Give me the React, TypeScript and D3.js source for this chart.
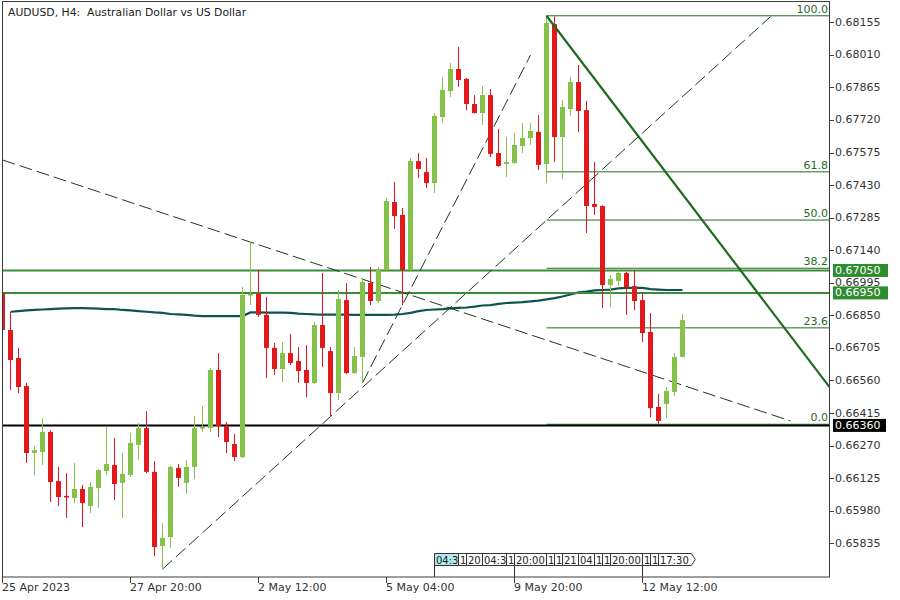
import React from 'react';
import * as d3 from 'd3';

// ---- Data (AUDUSD H4) ----
const opens = [0.66950,0.66785,0.66660,0.66535,0.66237,0.66242,0.66331,0.66112,0.66046,0.66037,0.66077,0.66001,0.66081,0.66157,0.66184,0.66104,0.66139,0.66273,0.66348,0.66153,0.65823,0.65863,0.66170,0.66104,0.66175,0.66346,0.66348,0.66607,0.66357,0.66277,0.66219,0.66938,0.66945,0.66852,0.66705,0.66611,0.66682,0.66647,0.66607,0.66549,0.66807,0.66691,0.66504,0.66918,0.66593,0.66665,0.66994,0.66914,0.67052,0.67355,0.67297,0.67052,0.67537,0.67488,0.67439,0.67733,0.67849,0.67947,0.67903,0.67791,0.67751,0.67831,0.67573,0.67524,0.67528,0.67604,0.67640,0.67667,0.67524,0.68147,0.67644,0.67769,0.67889,0.67764,0.67346,0.67337,0.66985,0.67003,0.67039,0.66981,0.66918,0.66776,0.66442,0.66455,0.66509,0.66665];
const highs = [0.66958,0.66865,0.66705,0.66549,0.66268,0.66393,0.66339,0.66175,0.66148,0.66193,0.66095,0.66108,0.66165,0.66353,0.66304,0.66237,0.66326,0.66371,0.66424,0.66201,0.65925,0.66179,0.66188,0.66206,0.66402,0.66446,0.66616,0.66682,0.66375,0.66322,0.66976,0.67177,0.67052,0.66932,0.66727,0.66731,0.66767,0.66709,0.66718,0.66820,0.67039,0.66709,0.66963,0.66994,0.66709,0.67016,0.67065,0.67065,0.67373,0.67444,0.67328,0.67551,0.67573,0.67551,0.67751,0.67911,0.67974,0.68045,0.67907,0.67831,0.67871,0.67858,0.67680,0.67644,0.67662,0.67707,0.67707,0.67742,0.68184,0.68181,0.67809,0.67911,0.67965,0.67805,0.67533,0.67340,0.67030,0.67065,0.67044,0.67052,0.66950,0.66861,0.66500,0.66531,0.66682,0.66856];
const lows = [0.66771,0.66518,0.66504,0.66193,0.66139,0.66184,0.66019,0.66001,0.65948,0.66014,0.65907,0.65970,0.65992,0.66139,0.66028,0.65948,0.66130,0.66206,0.66148,0.65778,0.65720,0.65814,0.66086,0.66055,0.66121,0.66331,0.66331,0.66308,0.66237,0.66201,0.66215,0.66896,0.66843,0.66571,0.66584,0.66553,0.66629,0.66549,0.66486,0.66545,0.66620,0.66397,0.66473,0.66589,0.66590,0.66549,0.66896,0.66905,0.67043,0.67235,0.66896,0.67048,0.67462,0.67417,0.67395,0.67707,0.67822,0.67867,0.67764,0.67749,0.67698,0.67555,0.67511,0.67466,0.67526,0.67573,0.67609,0.67497,0.67439,0.67533,0.67457,0.67738,0.67667,0.67217,0.67297,0.66883,0.66887,0.66981,0.66852,0.66874,0.66731,0.66397,0.66365,0.66393,0.66491,0.66663];
const closes = [0.66785,0.66651,0.66531,0.66237,0.66250,0.66331,0.66108,0.66041,0.66039,0.66077,0.66014,0.66086,0.66161,0.66188,0.66099,0.66144,0.66282,0.66348,0.66153,0.65818,0.65859,0.66175,0.66126,0.66175,0.66348,0.66353,0.66607,0.66357,0.66286,0.66219,0.66941,0.66945,0.66852,0.66705,0.66611,0.66682,0.66638,0.66602,0.66549,0.66807,0.66705,0.66504,0.66923,0.66593,0.66669,0.66999,0.66914,0.67056,0.67359,0.67292,0.67052,0.67537,0.67502,0.67439,0.67738,0.67854,0.67947,0.67898,0.67791,0.67751,0.67831,0.67569,0.67515,0.67533,0.67609,0.67640,0.67671,0.67520,0.68152,0.67644,0.67778,0.67889,0.67760,0.67337,0.67333,0.66985,0.67012,0.67039,0.66976,0.66914,0.66771,0.66437,0.66380,0.66513,0.66665,0.66829];
const maValues = [NaN,0.66866,0.66869,0.66872,0.66874,0.66876,0.66878,0.66880,0.66881,0.66882,0.66882,0.66881,0.66880,0.66878,0.66878,0.66874,0.66872,0.66869,0.66866,0.66863,0.66861,0.66856,0.66854,0.66852,0.66849,0.66847,0.66847,0.66847,0.66847,0.66847,0.66847,0.66863,0.66863,0.66862,0.66862,0.66862,0.66861,0.66858,0.66856,0.66854,0.66853,0.66853,0.66853,0.66853,0.66852,0.66852,0.66852,0.66852,0.66852,0.66853,0.66856,0.66861,0.66869,0.66874,0.66876,0.66878,0.66881,0.66883,0.66885,0.66889,0.66894,0.66896,0.66901,0.66905,0.66907,0.66909,0.66912,0.66916,0.66921,0.66927,0.66934,0.66943,0.66952,0.66956,0.66961,0.66963,0.66965,0.66970,0.66972,0.66972,0.66972,0.66967,0.66965,0.66963,0.66963,0.66963];

const yTickLabels = ["0.68155","0.68010","0.67865","0.67720","0.67575","0.67430","0.67285","0.67140","0.66995","0.66850","0.66705","0.66560","0.66415","0.66270","0.66125","0.65980","0.65835"];
const xTickIndex = [0,16,32,48,64,80];
const xTickLabels = ["25 Apr 2023","27 Apr 20:00","2 May 12:00","5 May 04:00","9 May 20:00","12 May 12:00"];

const greenLevels = [0.67050,0.66950];
const greenLevelLabels = ["0.67050","0.66950"];
const blackLevel = 0.66360;
const blackLevelLabel = "0.66360";

const fibLevels = [100,61.8,50,38.2,23.6,0];
const fibLevelLabels = ["100.0","61.8","50.0","38.2","23.6","0.0"];
const fibHigh = 0.68184;
const fibLow = 0.66365;
const fibStartIndex = 68;

const dashStartIndex = [0,20,45];
const dashStartPrice = [0.67542,0.65720,0.66549];
const dashEndIndex = [98.5,96,66];
const dashEndPrice = [0.66380,0.68180,0.68009];

const solidStartIndex = 68;
const solidStartPrice = 0.68184;
const solidEndIndex = 103.5;
const solidEndPrice = 0.66525;

const objLabelIndex = [54,57,58,60,63,64,68,69,70,72,74,75,76,80,81,82];
const objLabelText = ["04:30","12:00","20:00","04:30","12:00","20:00","12:00","16:00","21:00","04:00","12:00","16:00","20:00","12:00","16:00","17:30"];
const objStemIndex = [54,64,80];

const titleText = "AUDUSD, H4:\u00a0 Australian Dollar vs US Dollar";

// ---- Layout ----
const W = 900, H = 600;
const left = 2, right = 830, top = 2, bottom = 577;
const FONT = "DejaVu Sans";
const BULL = "#86c14a";
const BEAR = "#e2191c";

export default function App() {
  const x = d3.scaleLinear().domain([0, 100]).range([2.5, 802.5]);
  const y = d3.scaleLinear().domain([0.65835, 0.68155]).range([543.3, 22.3]);
  const n = opens.length;
  const idx = d3.range(n);

  const maLine = d3.line<number>()
    .defined(i => !isNaN(maValues[i]))
    .x(i => x(i))
    .y(i => y(maValues[i]))
    .curve(d3.curveLinear);

  const yTickVals = yTickLabels.map(s => +s);
  const fibY = (lv: number) => y(fibLow + (lv / 100) * (fibHigh - fibLow));

  const charW = 6.36, colonW = 3.37;
  const cw = (c: string) => (c === ':' ? colonW : charW);
  const textWidth = (s: string) => s.split('').reduce((a, c) => a + cw(c), 0);
  const fitText = (s: string, avail: number) => {
    let out = '';
    let w = 0;
    for (const c of s) {
      if (w + cw(c) > avail + 1.5) break;
      out += c;
      w += cw(c);
    }
    return out;
  };

  const boxX = objLabelIndex.map(li => Math.round(x(li) - 0.5) + 0.5);

  return (
    <svg width={W} height={H} style={{ position: 'absolute', left: 0, top: 0, background: '#fff' }} fontFamily={FONT}>
      <defs>
        <clipPath id="plot">
          <rect x={left} y={top} width={right - left} height={bottom - top} />
        </clipPath>
      </defs>
      <rect x={0} y={0} width={W} height={H} fill="#fff" />

      <g clipPath="url(#plot)">
        {/* moving average */}
        <path d={maLine(idx) || ''} fill="none" stroke="#0f5350" strokeWidth={2.2} />

        {/* green horizontal levels */}
        {greenLevels.map((p, k) => (
          <line key={'g' + k} x1={left} x2={right} y1={y(p)} y2={y(p)} stroke="#3a8c3a" strokeWidth={2} />
        ))}

        {/* fib levels */}
        {fibLevels.map((lv, k) => (
          <g key={'f' + k}>
            <line x1={x(fibStartIndex)} x2={right} y1={fibY(lv)} y2={fibY(lv)} stroke="#1f6a1f" strokeWidth={1} />
            <text x={828} y={fibY(lv) - 3} textAnchor="end" fontSize={11} fill="#1f6a1f">{fibLevelLabels[k]}</text>
          </g>
        ))}

        {/* black level */}
        <line x1={left} x2={right} y1={y(blackLevel)} y2={y(blackLevel)} stroke="#000" strokeWidth={2} />

        {/* dashed trend lines */}
        {dashStartIndex.map((s, k) => (
          <line key={'d' + k} x1={x(s)} y1={y(dashStartPrice[k])} x2={x(dashEndIndex[k])} y2={y(dashEndPrice[k])}
            stroke="#1c3a1c" strokeWidth={1} strokeDasharray="13 5" />
        ))}

        {/* candles */}
        {idx.map(i => {
          const o = opens[i], c = closes[i];
          const up = c >= o;
          const col = up ? BULL : BEAR;
          const cx = x(i);
          const yt = y(Math.max(o, c)), yb = y(Math.min(o, c));
          return (
            <g key={'c' + i}>
              <rect x={cx - 0.5} y={y(highs[i])} width={1} height={Math.max(1, y(lows[i]) - y(highs[i]))} fill={col} />
              <rect x={cx - 2.5} y={yt} width={5} height={Math.max(1.5, yb - yt)} fill={col} />
            </g>
          );
        })}

        {/* solid green diagonal */}
        <line x1={x(solidStartIndex)} y1={y(solidStartPrice)} x2={x(solidEndIndex)} y2={y(solidEndPrice)}
          stroke="#1f6a1f" strokeWidth={2.2} />

        {/* object time labels */}
        {objStemIndex.map((si, k) => (
          <line key={'s' + k} x1={Math.round(x(si) - 0.5) + 0.5} x2={Math.round(x(si) - 0.5) + 0.5} y1={565} y2={bottom} stroke="#333" strokeWidth={1} />
        ))}
        {objLabelIndex.map((li, k) => {
          const bx = boxX[k];
          const last = k === objLabelIndex.length - 1;
          const bw = textWidth(objLabelText[k]) + 4;
          const pathD = last
            ? `M${bx},553.5 H${bx + bw} L${bx + bw + 4},559.5 L${bx + bw},565.5 H${bx} Z`
            : `M${bx},553.5 H${bx + bw} V565.5 H${bx} Z`;
          const avail = last ? bw : boxX[k + 1] - bx - 2;
          const shown = fitText(objLabelText[k], avail);
          return (
            <g key={'o' + k}>
              <path d={pathD} fill={k === 0 ? '#b4e9ee' : '#fff'} stroke="#333" strokeWidth={1} />
              <text x={bx + 1.5} y={563.5} fontSize={10} fill="#222">{shown}</text>
            </g>
          );
        })}
      </g>

      {/* frame */}
      <rect x={left + 0.5} y={top - 0.5} width={right - left - 1} height={bottom - top + 0.5} fill="none" stroke="#3c3c3c" strokeWidth={1} />

      {/* right axis ticks */}
      {yTickVals.map((v, k) => (
        <g key={'yt' + k}>
          <line x1={right} x2={right + 4} y1={Math.round(y(v)) + 0.5} y2={Math.round(y(v)) + 0.5} stroke="#3c3c3c" />
          <text x={right + 5} y={y(v)} dominantBaseline="central" fontSize={11} fill="#333">{yTickLabels[k]}</text>
        </g>
      ))}

      {/* price labels */}
      {greenLevels.map((p, k) => (
        <g key={'gl' + k}>
          <rect x={833} y={y(p) - 6.5} width={55} height={13} fill="#2f8c2f" />
          <text x={835} y={y(p)} dominantBaseline="central" fontSize={11} fill="#fff">{greenLevelLabels[k]}</text>
        </g>
      ))}
      <rect x={833} y={y(blackLevel) - 6.5} width={53} height={13} fill="#000" />
      <text x={835} y={y(blackLevel)} dominantBaseline="central" fontSize={11} fill="#fff">{blackLevelLabel}</text>

      {/* bottom axis ticks */}
      {xTickIndex.map((ti, k) => (
        <g key={'xt' + k}>
          <line x1={Math.round(x(ti) - 0.5) + 0.5} x2={Math.round(x(ti) - 0.5) + 0.5} y1={bottom} y2={bottom + 6} stroke="#3c3c3c" />
          <text x={x(ti) - 0.5} y={591} fontSize={11} fill="#333">{xTickLabels[k]}</text>
        </g>
      ))}

      {/* title */}
      <text x={8} y={16} fontSize={10.8} fill="#222">{titleText}</text>
    </svg>
  );
}
